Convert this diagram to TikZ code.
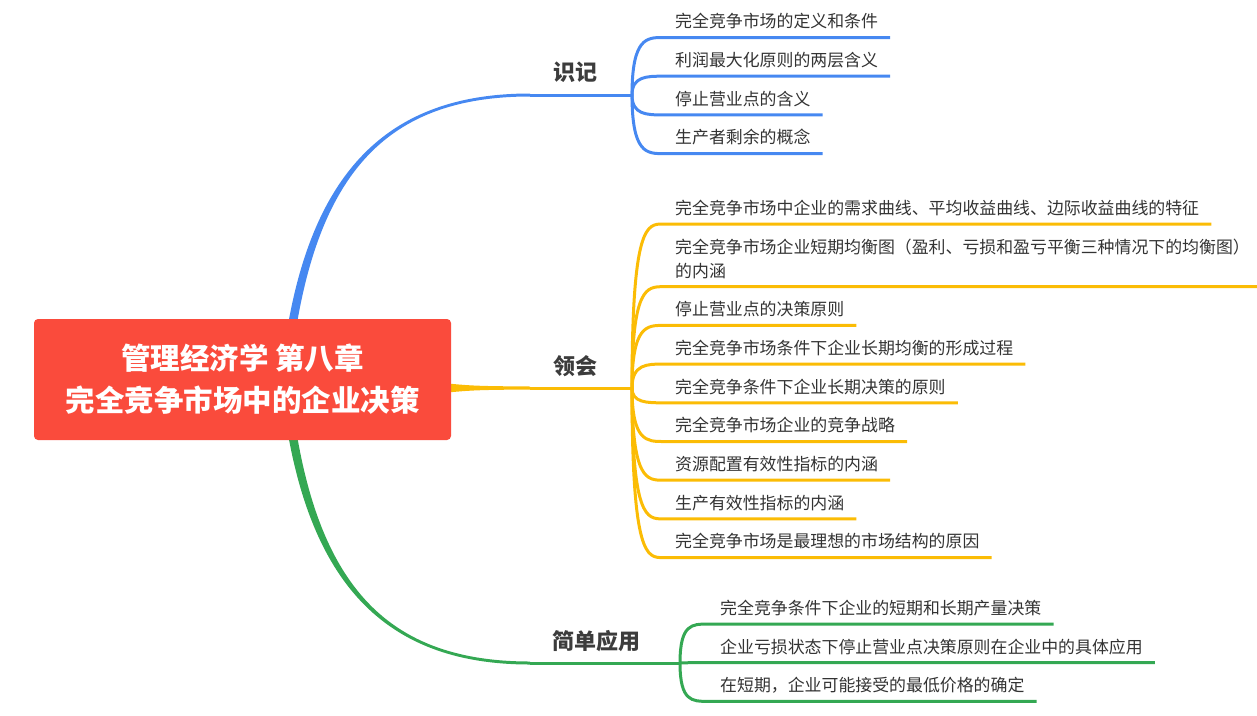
\documentclass[tikz,border=0pt]{standalone}
\usepackage{fontspec}
\setmainfont{Noto Sans CJK SC}
\usepackage{xcolor}
\usepackage{tikz}
\usetikzlibrary{positioning, calc, backgrounds}
\definecolor{rouge}{HTML}{FA4B3C}
\definecolor{bleu}{HTML}{4688F1}
\definecolor{jaune}{HTML}{FBBC05}
\definecolor{vert}{HTML}{34A853}
\definecolor{encre}{HTML}{333333}
\definecolor{titre}{HTML}{3C3C3C}
\tikzset{
  racine/.style={rectangle, rounded corners=4pt, fill=rouge, text=white,
    font=\fontsize{29.5}{42}\selectfont\bfseries, minimum width=417pt,
    minimum height=121pt, align=center, inner sep=0pt},
  theme/.style={font=\fontsize{22}{26}\selectfont\bfseries, text=titre,
    inner sep=0pt},
  feuille/.style={font=\fontsize{16.9}{24}\selectfont, text=encre, align=left,
    inner xsep=12pt, inner ysep=5.5pt, text height=13pt, text depth=4pt},
  trait/.style={line width=3pt},
  fourche/.style={to path={.. controls (\tikztostart |- \tikztotarget)
    and ($(\tikztotarget)+(-16,0)$) .. (\tikztotarget)}}
}

\begin{document}
\begin{tikzpicture}[x=1pt, y=-1pt, node distance=10.3pt]
  \useasboundingbox (0,0) rectangle (1257,715);

  \node[racine] (root) at (242.5,379.5) {管理经济学 第八章\\完全竞争市场中的企业决策};

  % themes
  \node[theme] (shiji) at (575,72) {识记};
  \node[theme] (linghui) at (575,366) {领会};
  \node[theme] (yingyong) at (596,641) {简单应用};

  \coordinate (a1) at (530,95);  \coordinate (j1) at (632,95);
  \coordinate (a2) at (530,388); \coordinate (j2) at (632,388);
  \coordinate (a3) at (530,663); \coordinate (j3) at (680,663);

  % branches behind the root
  \begin{scope}[on background layer]
    \fill[bleu] ($(root.center)+(38,0)$) .. controls (300.5,180) and (380,93.5)
      .. ($(a1)+(0,-1.5)$) -- ($(a1)+(0,1.5)$) .. controls (380,96.5) and (309.5,180)
      .. ($(root.center)+(47,0)$) -- cycle;
    \fill[jaune] (420,380.5) .. controls (470,386) .. ($(a2)+(0,-1.5)$)
      -- ($(a2)+(0,1.5)$) .. controls (470,390) .. (420,395.5) -- cycle;
    \fill[vert] ($(root.center)+(38,0)$) .. controls (300.5,578) and (380,664.5)
      .. ($(a3)+(0,1.5)$) -- ($(a3)+(0,-1.5)$) .. controls (380,661.5) and (309.5,578)
      .. ($(root.center)+(47,0)$) -- cycle;
  \end{scope}

  % 识记
  \node[feuille, anchor=south west] (b1) at (663,37.5) {完全竞争市场的定义和条件};
  \node[feuille, below=of b1.south west, anchor=north west] (b2) {利润最大化原则的两层含义};
  \node[feuille, below=of b2.south west, anchor=north west] (b3) {停止营业点的含义};
  \node[feuille, below=of b3.south west, anchor=north west] (b4) {生产者剩余的概念};

  % 领会
  \node[feuille, anchor=south west] (y1) at (663,224) {完全竞争市场中企业的需求曲线、平均收益曲线、边际收益曲线的特征};
  \node[feuille, below=of y1.south west, anchor=north west, text height=37pt] (y2)
    {完全竞争市场企业短期均衡图（盈利、亏损和盈亏平衡三种情况下的均衡图）\\的内涵};
  \node[feuille, below=of y2.south west, anchor=north west] (y3) {停止营业点的决策原则};
  \node[feuille, below=of y3.south west, anchor=north west] (y4) {完全竞争市场条件下企业长期均衡的形成过程};
  \node[feuille, below=of y4.south west, anchor=north west] (y5) {完全竞争条件下企业长期决策的原则};
  \node[feuille, below=of y5.south west, anchor=north west] (y6) {完全竞争市场企业的竞争战略};
  \node[feuille, below=of y6.south west, anchor=north west] (y7) {资源配置有效性指标的内涵};
  \node[feuille, below=of y7.south west, anchor=north west] (y8) {生产有效性指标的内涵};
  \node[feuille, below=of y8.south west, anchor=north west] (y9) {完全竞争市场是最理想的市场结构的原因};

  % 简单应用
  \node[feuille, anchor=south west] (g1) at (708,624) {完全竞争条件下企业的短期和长期产量决策};
  \node[feuille, below=of g1.south west, anchor=north west] (g2) {企业亏损状态下停止营业点决策原则在企业中的具体应用};
  \node[feuille, below=of g2.south west, anchor=north west] (g3) {在短期，企业可能接受的最低价格的确定};

  \draw[trait, bleu] (a1) -- (j1);
  \draw[trait, bleu] (j1) to[fourche] (b1.south west) -- (b1.south east);
  \draw[trait, bleu] (j1) to[fourche] (b2.south west) -- (b2.south east);
  \draw[trait, bleu] (j1) to[fourche] (b3.south west) -- (b3.south east);
  \draw[trait, bleu] (j1) to[fourche] (b4.south west) -- (b4.south east);

  \draw[trait, jaune] (a2) -- (j2);
  \draw[trait, jaune] (j2) to[fourche] (y1.south west) -- (y1.south east);
  \draw[trait, jaune] (j2) to[fourche] (y2.south west) -- (y2.south east);
  \draw[trait, jaune] (j2) to[fourche] (y3.south west) -- (y3.south east);
  \draw[trait, jaune] (j2) to[fourche] (y4.south west) -- (y4.south east);
  \draw[trait, jaune] (j2) to[fourche] (y5.south west) -- (y5.south east);
  \draw[trait, jaune] (j2) to[fourche] (y6.south west) -- (y6.south east);
  \draw[trait, jaune] (j2) to[fourche] (y7.south west) -- (y7.south east);
  \draw[trait, jaune] (j2) to[fourche] (y8.south west) -- (y8.south east);
  \draw[trait, jaune] (j2) to[fourche] (y9.south west) -- (y9.south east);

  \draw[trait, vert] (a3) -- (j3);
  \draw[trait, vert] (j3) to[fourche] (g1.south west) -- (g1.south east);
  \draw[trait, vert] (j3) to[fourche] (g2.south west) -- (g2.south east);
  \draw[trait, vert] (j3) to[fourche] (g3.south west) -- (g3.south east);
\end{tikzpicture}
\end{document}
